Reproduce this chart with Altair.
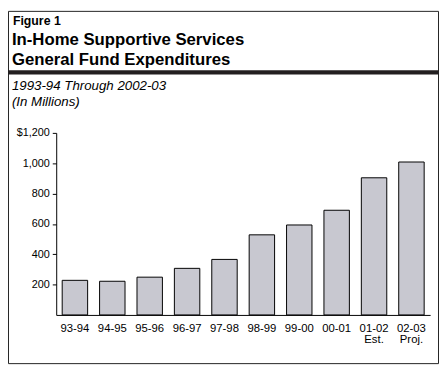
import altair as alt
import pandas as pd

categories = ["93-94", "94-95", "95-96", "96-97", "97-98", "98-99", "99-00", "00-01", "01-02", "02-03"]
notes = ["", "", "", "", "", "", "", "", "Est.", "Proj."]
values = [228, 222, 249, 307, 366, 528, 593, 690, 904, 1008]
y_ticks = [200, 400, 600, 800, 1000, 1200]

fig_label = "Figure 1"
title_lines = ["In-Home Supportive Services", "General Fund Expenditures"]
subtitle_lines = ["1993-94 Through 2002-03", "(In Millions)"]

FONT = "Liberation Sans"

labels = [c + ("|" + n if n else "") for c, n in zip(categories, notes)]
df = pd.DataFrame({"label": labels, "value": values})

W, H = 380, 185

bars = alt.Chart(df).mark_bar(
    fill="#c8c8d0", stroke="#000000", strokeWidth=1
).encode(
    x=alt.X("label:N", sort=labels,
            scale=alt.Scale(paddingInner=0.32, paddingOuter=0.16),
            axis=alt.Axis(title=None, labelAngle=0, ticks=False, labelPadding=8,
                          labelExpr="split(datum.label, '|')",
                          labelLineHeight=11, labelFont=FONT, labelFontSize=11.5,
                          labelColor="#000000", domainColor="#000000", domainWidth=1)),
    y=alt.Y("value:Q",
            scale=alt.Scale(domain=[0, 1200], nice=False),
            axis=alt.Axis(title=None, values=y_ticks, grid=False,
                          labelExpr="(datum.value == 1200 ? '$' : '') + format(datum.value, ',.0f')",
                          tickSize=4, tickColor="#000000", labelPadding=3,
                          labelFont=FONT, labelFontSize=11, labelColor="#000000",
                          domainColor="#000000", domainWidth=1)),
)

one = pd.DataFrame({"k": [0]})

frame = alt.Chart(one).mark_rect(
    fillOpacity=0, stroke="#222222", strokeWidth=1
).encode(
    x=alt.value(-48.5), x2=alt.value(388.5), y=alt.value(-123.5), y2=alt.value(234.5)
)

thick = alt.Chart(one).mark_rule(
    color="#231f20", strokeWidth=4.5
).encode(
    x=alt.value(-48.5), x2=alt.value(388.5), y=alt.value(-61.5)
)

def text_layer(txt, x, y, size, weight="normal", style="normal"):
    return alt.Chart(pd.DataFrame({"t": [txt]})).mark_text(
        align="left", baseline="alphabetic", font=FONT, fontSize=size,
        fontWeight=weight, fontStyle=style, color="#000000"
    ).encode(text="t:N", x=alt.value(x), y=alt.value(y))

texts = [
    text_layer(fig_label, -44, -110, 12.5, weight="bold"),
    text_layer(title_lines[0], -45, -89, 17, weight="bold"),
    text_layer(title_lines[1], -45, -69, 17, weight="bold"),
    text_layer(subtitle_lines[0], -45, -43.5, 13.5, style="italic"),
    text_layer(subtitle_lines[1], -45, -27.5, 13.5, style="italic"),
]

chart = alt.layer(frame, thick, bars, *texts).properties(
    width=W, height=H,
    autosize=alt.AutoSizeParams(type="none"),
    padding={"left": 49, "top": 124, "right": 9, "bottom": 50},
    background="#ffffff",
).configure_view(stroke=None)

chart.save("out.html", embed_options={"renderer": "svg", "actions": False})
